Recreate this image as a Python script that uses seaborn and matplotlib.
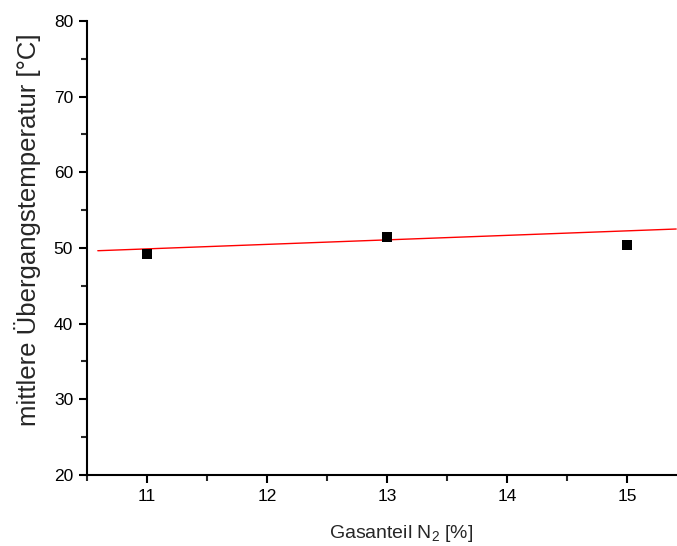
import matplotlib
matplotlib.use("Agg")
import matplotlib.pyplot as plt
from matplotlib.ticker import MultipleLocator
import pandas as pd
import seaborn as sns

# Measured transition temperatures vs. nitrogen fraction
n2_percent = [11, 13, 15]
temperature = [49.15, 51.45, 50.45]

# Linear fit line (end points)
fit_x = [10.59, 15.41]
fit_y = [49.64, 52.51]

sns.set_theme(style="ticks")
plt.rcParams["font.family"] = ["Liberation Sans", "DejaVu Sans"]
plt.rcParams["mathtext.fontset"] = "custom"
plt.rcParams["mathtext.rm"] = "Liberation Sans"
plt.rcParams["mathtext.it"] = "Liberation Sans:italic"

df = pd.DataFrame({"x": n2_percent, "y": temperature})
fit = pd.DataFrame({"x": fit_x, "y": fit_y})

W, H = 677, 546
fig = plt.figure(figsize=(W / 100, H / 100), dpi=100)
ax = fig.add_axes([87 / W, 71 / H, 600 / W, 454 / H])

sns.lineplot(data=fit, x="x", y="y", ax=ax, color="red", linewidth=1.0)
sns.scatterplot(data=df, x="x", y="y", ax=ax, marker="s", s=58,
                color="black", edgecolor="black", linewidth=0, zorder=3)

ax.set_xlim(10.5, 15.5)
ax.set_ylim(20, 80)
ax.xaxis.set_major_locator(MultipleLocator(1))
ax.xaxis.set_minor_locator(MultipleLocator(0.5))
ax.yaxis.set_major_locator(MultipleLocator(10))
ax.yaxis.set_minor_locator(MultipleLocator(5))

for s in ["top", "right"]:
    ax.spines[s].set_visible(False)
for s in ["left", "bottom"]:
    ax.spines[s].set_linewidth(1.5)
    ax.spines[s].set_color("black")

ax.tick_params(which="major", direction="out", length=6, width=1.5,
               labelsize=12.5, colors="black", pad=4)
ax.tick_params(which="minor", direction="out", length=4, width=1.5)

ax.set_xlabel("")
ax.set_ylabel("")
fig.text(401 / W, 1 - 534 / H, "Gasanteil N$_2$ [%]", fontsize=14,
         ha="center", va="center")
fig.text(28 / W, 1 - 230 / H, "mittlere Übergangstemperatur [°C]",
         fontsize=18.5, rotation=90, ha="center", va="center")

fig.savefig("out.png", dpi=100)
